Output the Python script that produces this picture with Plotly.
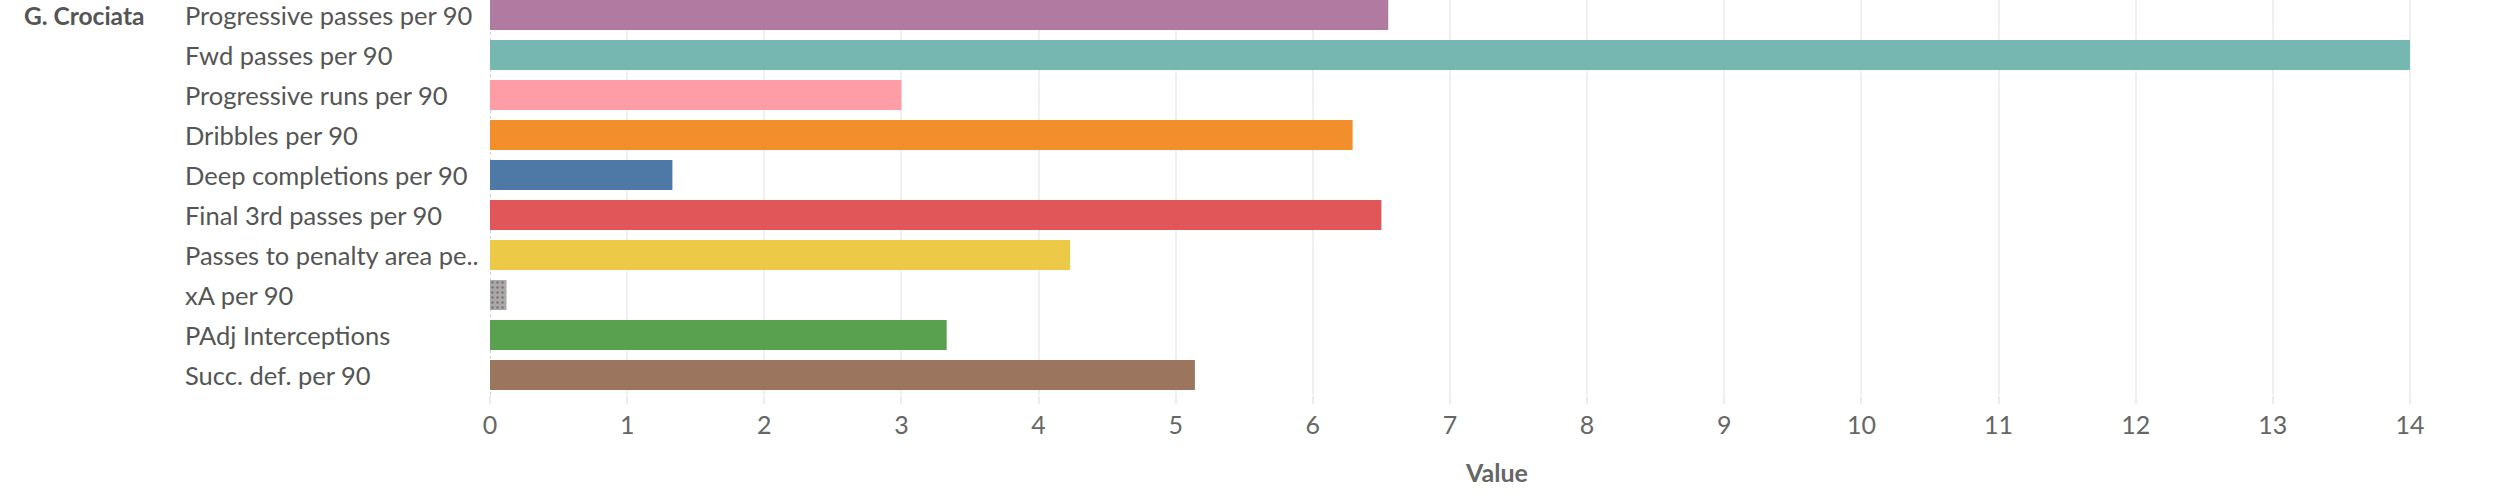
import plotly.graph_objects as go

player = "G. Crociata"
metrics = [
    "Progressive passes per 90",
    "Fwd passes per 90",
    "Progressive runs per 90",
    "Dribbles per 90",
    "Deep completions per 90",
    "Final 3rd passes per 90",
    "Passes to penalty area pe..",
    "xA per 90",
    "PAdj Interceptions",
    "Succ. def. per 90",
]
values = [6.55, 14.0, 3.0, 6.29, 1.33, 6.50, 4.23, 0.12, 3.33, 5.14]
colors = ["#B07AA1", "#76B7B2", "#FF9DA7", "#F28E2B", "#4E79A7",
          "#E15759", "#EDC948", "#ADA8A8", "#59A14F", "#9C755F"]
x_ticks = list(range(0, 15))
x_title = "Value"

W, H = 2504, 502
PLOT_LEFT, PLOT_TOP, PLOT_BOTTOM = 490, 0, 395
ML, MT, MB, MR = PLOT_LEFT, PLOT_TOP, H - PLOT_BOTTOM, 0
plot_w = W - ML - MR
px_per_unit = 137.14
xmax = plot_w / px_per_unit
row_px = 40.0
first_center = 15.0
y_top = (PLOT_TOP - first_center) / row_px
y_bot = (PLOT_BOTTOM - first_center) / row_px

FONT = "Lato"
LABEL_COLOR = "#555555"

pattern_shapes = ["." if m == "xA per 90" else "" for m in metrics]

fig = go.Figure()
fig.add_trace(go.Bar(
    x=values,
    y=metrics,
    orientation="h",
    width=0.75,
    marker=dict(
        color=colors,
        line=dict(width=0),
        pattern=dict(shape=pattern_shapes, fgcolor="#f2d3d7", size=5, solidity=0.2),
    ),
    hoverinfo="x+y",
    showlegend=False,
))

annotations = []
for m in metrics:
    annotations.append(dict(
        x=(183 - PLOT_LEFT) / plot_w, xref="paper", xanchor="left",
        y=m, yref="y", yanchor="middle",
        text=m, showarrow=False,
        font=dict(family=FONT, size=25.5, color=LABEL_COLOR),
    ))
annotations.append(dict(
    x=(22 - PLOT_LEFT) / plot_w, xref="paper", xanchor="left",
    y=metrics[0], yref="y", yanchor="middle",
    text="<b>" + player + "</b>", showarrow=False,
    font=dict(family=FONT, size=24.5, color=LABEL_COLOR),
))

fig.update_layout(
    width=W, height=H,
    margin=dict(l=ML, r=MR, t=MT, b=MB, pad=0),
    paper_bgcolor="white",
    plot_bgcolor="white",
    annotations=annotations,
    shapes=[dict(type="line", xref="x", yref="paper", x0=0, x1=0, y0=0, y1=1,
                 line=dict(color="#cfcfcf", width=2, dash="dot"), layer="below")],
    xaxis=dict(
        range=[0, xmax],
        tickvals=x_ticks,
        ticktext=[str(t) for t in x_ticks],
        showgrid=True, gridcolor="#efefef", gridwidth=2,
        zeroline=False,
        showline=False,
        ticks="outside", ticklen=8, tickcolor="#ececec", tickwidth=2,
        tickfont=dict(family=FONT, size=25, color="#666666"),
        title=dict(text="<b>" + x_title + "</b>", standoff=26,
                   font=dict(family=FONT, size=25, color="#666666")),
        fixedrange=True,
    ),
    yaxis=dict(
        type="category",
        categoryorder="array",
        categoryarray=metrics,
        range=[y_bot, y_top],
        showticklabels=False,
        showgrid=False,
        zeroline=False,
        showline=False,
        ticks="",
        fixedrange=True,
    ),
)

fig.write_html(
    "out.html",
    config={"displayModeBar": False},
    post_script="document.body.style.margin='0';document.body.style.overflow='hidden';",
)
